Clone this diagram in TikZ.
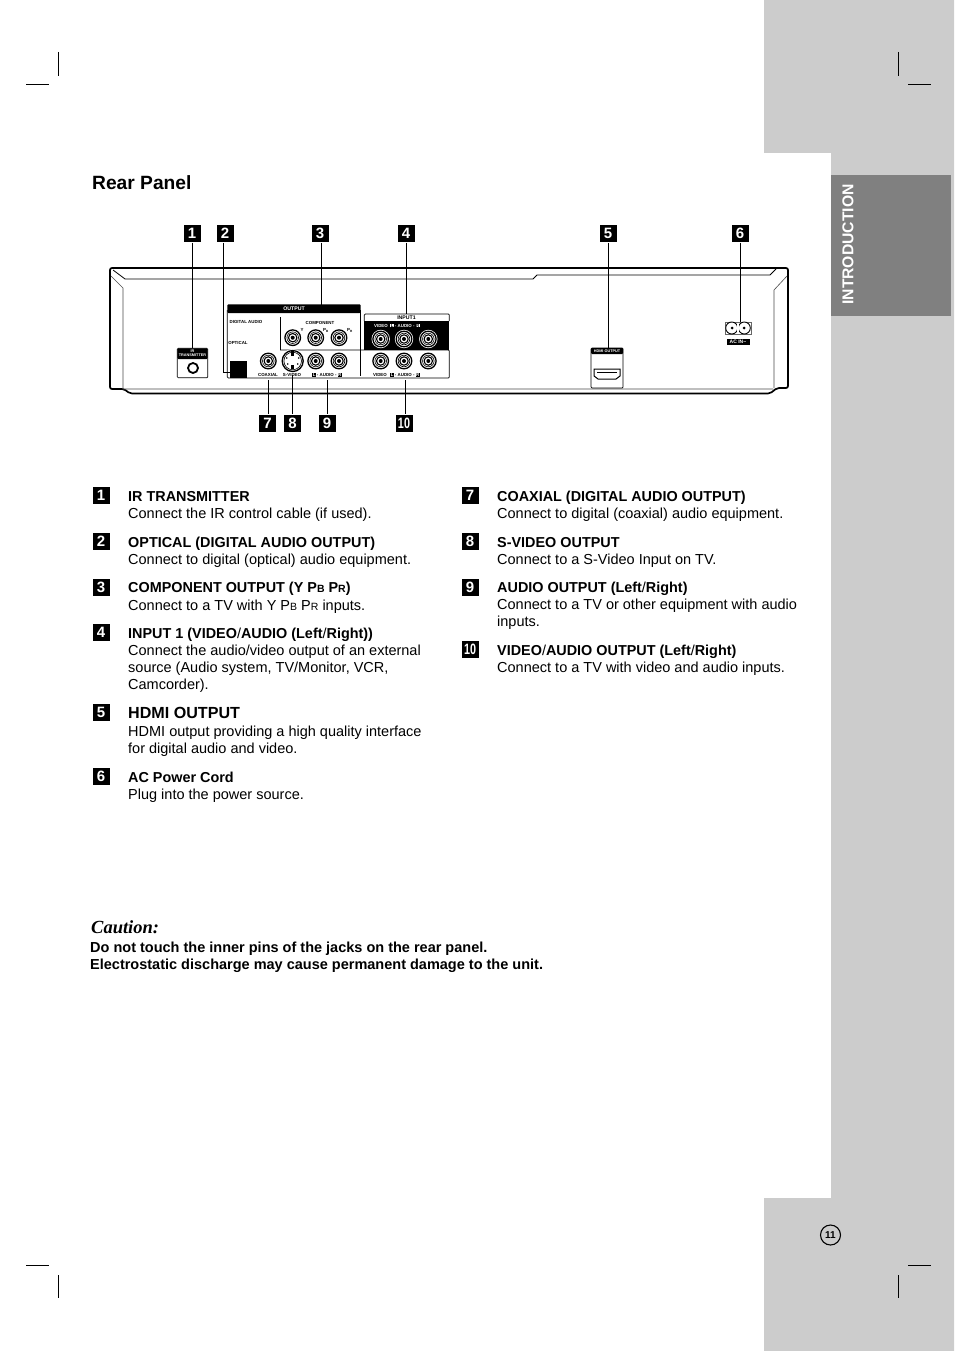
\documentclass[tikz,border=0pt]{standalone}
\usepackage{fontspec}
\setmainfont{Liberation Sans}
\newfontfamily\cautionfont{Liberation Serif}
\newcommand{\lowcap}[1]{{\fontsize{10.5}{10.5}\selectfont #1}}
\newcommand{\thinslash}{\textmd{/}}
\newcommand{\boxedL}[1]{{\setlength{\fboxsep}{0.3pt}\colorbox{black}{\textcolor{white}{#1}}}}
\newcommand{\boxedW}[1]{{\setlength{\fboxsep}{0.3pt}\colorbox{white}{\textcolor{black}{#1}}}}
\newcommand{\narrowten}{\scalebox{0.72}[1]{10}}
\definecolor{sidegray}{HTML}{CCCCCC}
\definecolor{tabgray}{HTML}{808080}
\tikzset{
  callout/.style={fill=black,text=white,inner sep=0pt,minimum size=17pt,font=\fontsize{15}{15}\selectfont\bfseries},
  itemtitle/.style={anchor=base west,inner sep=0pt,font=\fontsize{14.4}{17.3}\selectfont\bfseries},
  itemtext/.style={anchor=north west,inner sep=0pt,align=left,font=\fontsize{14.5}{17.3}\selectfont},
  tinylabel/.style={inner sep=0pt,font=\fontsize{4.4}{5}\selectfont\bfseries},
  crop/.style={line width=0.6pt},
  jack/.pic={
    \fill[white] (0,0) circle (9.2);
    \draw[line width=1.3pt] (0,0) circle (7.8);
    \draw[line width=0.6pt] (0,0) circle (5.8);
    \draw[line width=1.1pt] (0,0) circle (4.2);
    \fill (0,0) circle (2);
  }
}
\begin{document}
\begin{tikzpicture}[x=1pt,y=-1pt]
  \useasboundingbox (0,0) rectangle (954,1351);
  \fill[white] (0,0) rectangle (954,1351);
  \fill[sidegray] (764,0) -- (954,0) -- (954,1351) -- (764,1351) -- (764,1198) -- (831,1198) -- (831,153) -- (764,153) -- cycle;
  \fill[tabgray] (831,175) rectangle (951,316);
  \node[rotate=90,text=white,inner sep=0pt,font=\fontsize{15.7}{18}\selectfont\bfseries] (tabtitle) at (848,244.5) {INTRODUCTION};
  \draw[crop] (26,84) -- (49,84);
  \draw[crop] (58.5,52) -- (58.5,76);
  \draw[crop] (908,84) -- (931,84);
  \draw[crop] (898.5,52) -- (898.5,76);
  \draw[crop] (26,1265) -- (49,1265);
  \draw[crop] (58.5,1275) -- (58.5,1298);
  \draw[crop] (908,1265) -- (931,1265);
  \draw[crop] (898.5,1275) -- (898.5,1298);
  \node[anchor=base west,inner sep=0pt,font=\fontsize{19.2}{20}\selectfont\bfseries] (paneltitle) at (92,189.5) {Rear Panel};

  \draw[line width=1.7pt,rounded corners=2pt] (130,393.5) -- (124,389) -- (110,389) -- (110,268) -- (788,268) -- (788,388) -- (777,388) -- (770,393.5) -- cycle;
  \draw[line width=0.8pt] (113,270) -- (125,279) -- (533,279) -- (537,275) -- (770,275) -- (776,269);
  \draw[line width=0.6pt,black!70] (111,276) -- (123,288) -- (123,389) -- (773,389);
  \draw[line width=0.6pt,black!70] (787,276) -- (774,290) -- (774,388);

  \node[draw,line width=0.7pt,rounded corners=1pt,minimum width=30.5pt,minimum height=29.5pt,inner sep=0pt] (irbox) at (192.5,363) {};
  \fill[rounded corners=1pt] (177.3,348.3) rectangle (207.7,359);
  \node[tinylabel,align=center,text=white,font=\fontsize{3.8}{4}\selectfont\bfseries] (irlabel) at (192.5,353.7) {IR\\TRANSMITTER};
  \draw[line width=1.8pt] (193,368) circle (5);

  \fill[rounded corners=1pt] (227.3,313) -- (227.3,304.3) -- (360.7,304.3) -- (360.7,313) -- cycle;
  \node[tinylabel,text=white,font=\fontsize{5.2}{5}\selectfont\bfseries] (outputlabel) at (294,309) {OUTPUT};
  \draw[line width=0.7pt,rounded corners=1pt] (227.3,310) -- (227.3,378) -- (449.3,378) -- (449.3,350) -- (360.5,350) -- (280,350);
  \draw[line width=0.7pt] (280,317) -- (280,350);
  \draw[line width=0.7pt] (360.5,310) -- (360.5,376);
  \draw[line width=0.7pt,rounded corners=1pt] (364.3,321) -- (364.3,314) -- (449.3,314) -- (449.3,321);
  \fill (364.3,321) rectangle (449.3,350);

  \node[tinylabel] (digitallabel) at (246,321.5) {DIGITAL AUDIO};
  \node[tinylabel] (opticallabel) at (238,343) {OPTICAL};
  \node[tinylabel] (componentlabel) at (320,322.5) {COMPONENT};
  \node[tinylabel] (ylabel) at (302,330) {Y};
  \node[tinylabel] (pblabel) at (326,330) {P\textsubscript{B}};
  \node[tinylabel] (prlabel) at (350,330) {P\textsubscript{R}};
  \node[tinylabel,font=\fontsize{5.2}{5}\selectfont\bfseries] (inputlabel) at (406.5,318) {INPUT1};
  \node[tinylabel,text=white] (videoinlabel) at (381,325.5) {VIDEO};
  \node[tinylabel,text=white] (audioinlabel) at (405,325.5) {\boxedW{L} - AUDIO - \boxedW{R}};
  \node[tinylabel] (coaxiallabel) at (268,374.5) {COAXIAL};
  \node[tinylabel] (svideolabel) at (292,375) {S-VIDEO};
  \node[tinylabel] (audiooutlabel) at (327,375) {\boxedL{L} - AUDIO - \boxedL{R}};
  \node[tinylabel] (videooutlabel) at (380,375) {VIDEO};
  \node[tinylabel] (audiotvlabel) at (405,375) {\boxedL{L} - AUDIO - \boxedL{R}};

  \foreach \x/\y in {292.7/337.7,315.7/337.7,339/337.7,380.7/339,404/339,428.3/339,268.3/361,315.7/361,339/361,380.7/361,404/361,428.3/361}
    \pic at (\x,\y) {jack};

  \fill[white] (292.7,361) circle (12);
  \draw[line width=1.3pt] (292.7,361) circle (10.5);
  \draw[line width=0.6pt] (292.7,361) circle (8.8);
  \fill (291.2,350) rectangle (294.2,356);
  \fill (291.2,365) rectangle (294.2,369);
  \foreach \x/\y in {286.7/358,298.7/358,287.7/364,297.7/364}
    \fill (\x,\y) circle (0.9);

  \node[draw,fill=black,draw=black,line width=0.6pt,minimum size=16pt,inner sep=0pt] (optical) at (238.7,369.7) {};

  \node[draw,line width=0.7pt,rounded corners=1pt,minimum width=32pt,minimum height=40pt,inner sep=0pt] (hdmibox) at (607,368) {};
  \fill[rounded corners=1pt] (591,348) rectangle (623,354);
  \node[tinylabel,text=white,font=\fontsize{3.8}{4}\selectfont\bfseries] (hdmilabel) at (607,351) {HDMI OUTPUT};
  \draw[line width=1pt] (594,369) -- (620,369) -- (620,376) -- (616,379) -- (598,379) -- (594,376) -- cycle;
  \draw[line width=0.8pt] (597,372) -- (617,372);

  \draw[line width=0.5pt,black!60] (725,322) rectangle (751,334);
  \draw[line width=0.9pt,fill=white] (731.7,328) circle (6);
  \draw[line width=0.9pt,fill=white] (744.3,328) circle (6);
  \fill[white] (737,324) rectangle (739,332);
  \fill (732,328) circle (1.5);
  \fill (744,328) circle (1.5);
  \fill (726.5,338.5) rectangle (750,344.5);
  \node[tinylabel,text=white,font=\fontsize{5}{5}\selectfont\bfseries] (aclabel) at (738,341.5) {AC IN\textasciitilde};

  \node[callout] (c1) at (192,233) {1};
  \node[callout] (c2) at (225,233) {2};
  \node[callout] (c3) at (320,233) {3};
  \node[callout] (c4) at (406,233) {4};
  \node[callout] (c5) at (608,233) {5};
  \node[callout] (c6) at (740,233) {6};
  \node[callout] (c7) at (267.5,423) {7};
  \node[callout] (c8) at (292.5,423) {8};
  \node[callout] (c9) at (327,423) {9};
  \node[callout] (c10) at (404,423) {\narrowten};

  \coordinate (foot2) at (223,372);
  \coordinate (foot3) at (321,304.5);
  \coordinate (foot4) at (406,314);
  \coordinate (foot5) at (608,348);
  \coordinate (foot6) at (740,322);
  \coordinate (foot7) at (268.3,380);
  \coordinate (foot8) at (292.7,375);
  \coordinate (foot9) at (327.7,380);
  \coordinate (foot10) at (405,380);
  \draw[line width=0.7pt] (c1.south -| irbox.north) ++(0,1) -- (irbox.north);
  \draw[line width=0.7pt] (foot2 |- c2.south) ++(0,1) -- (foot2) -- (optical.west |- foot2);
  \draw[line width=0.7pt] (foot3 |- c3.south) ++(0,1) -- (foot3);
  \draw[line width=0.7pt] (foot4 |- c4.south) ++(0,1) -- (foot4);
  \draw[line width=0.7pt] (foot5 |- c5.south) ++(0,1) -- (foot5);
  \draw[line width=0.7pt] (foot6 |- c6.south) ++(0,1) -- (foot6);
  \draw[line width=0.7pt] (foot7) -- (foot7 |- c7.north);
  \draw[line width=0.7pt] (foot8) -- (foot8 |- c8.north);
  \draw[line width=0.7pt] (foot9) -- (foot9 |- c9.north);
  \draw[line width=0.7pt] (foot10) -- (foot10 |- c10.north);

  \node[callout] (n1) at (101,495) {1};
  \node[callout] (n2) at (101,541) {2};
  \node[callout] (n3) at (101,587) {3};
  \node[callout] (n4) at (101,632) {4};
  \node[callout] (n5) at (101,712) {5};
  \node[callout] (n6) at (101,776) {6};
  \node[callout] (n7) at (470,495) {7};
  \node[callout] (n8) at (470,541) {8};
  \node[callout] (n9) at (470,587) {9};
  \node[callout] (n10) at (470,649) {\narrowten};

  \node[itemtitle] (title1) at (128,501) {IR TRANSMITTER};
  \node[itemtext] (text1) at (128,505.9) {\strut Connect the IR control cable (if used).};
  \node[itemtitle] (title2) at (128,547) {OPTICAL (DIGITAL AUDIO OUTPUT)};
  \node[itemtext] (text2) at (128,551.9) {\strut Connect to digital (optical) audio equipment.};
  \node[itemtitle] (title3) at (128,592.5) {COMPONENT OUTPUT (Y P\lowcap{B} P\lowcap{R})};
  \node[itemtext] (text3) at (128,597.9) {\strut Connect to a TV with Y P\lowcap{B} P\lowcap{R} inputs.};
  \node[itemtitle] (title4) at (128,638) {INPUT 1 (VIDEO\thinslash AUDIO (Left\thinslash Right))};
  \node[itemtext] (text4) at (128,642.9) {\strut Connect the audio/video output of an external\\source (Audio system, TV/Monitor, VCR,\\Camcorder).};
  \node[itemtitle,font=\fontsize{16.1}{17.3}\selectfont\bfseries] (title5) at (128,718) {HDMI OUTPUT};
  \node[itemtext] (text5) at (128,723.9) {\strut HDMI output providing a high quality interface\\for digital audio and video.};
  \node[itemtitle] (title6) at (128,782) {AC Power Cord};
  \node[itemtext] (text6) at (128,786.9) {\strut Plug into the power source.};
  \node[itemtitle] (title7) at (497,501) {COAXIAL (DIGITAL AUDIO OUTPUT)};
  \node[itemtext] (text7) at (497,505.9) {\strut Connect to digital (coaxial) audio equipment.};
  \node[itemtitle] (title8) at (497,547) {S-VIDEO OUTPUT};
  \node[itemtext] (text8) at (497,551.9) {\strut Connect to a S-Video Input on TV.};
  \node[itemtitle] (title9) at (497,592.5) {AUDIO OUTPUT (Left\thinslash Right)};
  \node[itemtext] (text9) at (497,597) {\strut Connect to a TV or other equipment with audio\\inputs.};
  \node[itemtitle] (title10) at (497,655) {VIDEO\thinslash AUDIO OUTPUT (Left\thinslash Right)};
  \node[itemtext] (text10) at (497,659.9) {\strut Connect to a TV with video and audio inputs.};

  \node[anchor=base west,inner sep=0pt,font=\fontsize{18.5}{18}\selectfont\cautionfont\bfseries\itshape] (cautiontitle) at (91,933) {Caution:};
  \node[itemtext,font=\fontsize{14.5}{17.3}\selectfont\bfseries] (cautiontext) at (90,939.9) {\strut Do not touch the inner pins of the jacks on the rear panel.\\Electrostatic discharge may cause permanent damage to the unit.};

  \node[draw,circle,line width=1.1pt,minimum size=20pt,inner sep=0pt,font=\fontsize{10}{10}\selectfont\bfseries] (pagenumber) at (830.5,1235) {11};
\end{tikzpicture}
\end{document}
